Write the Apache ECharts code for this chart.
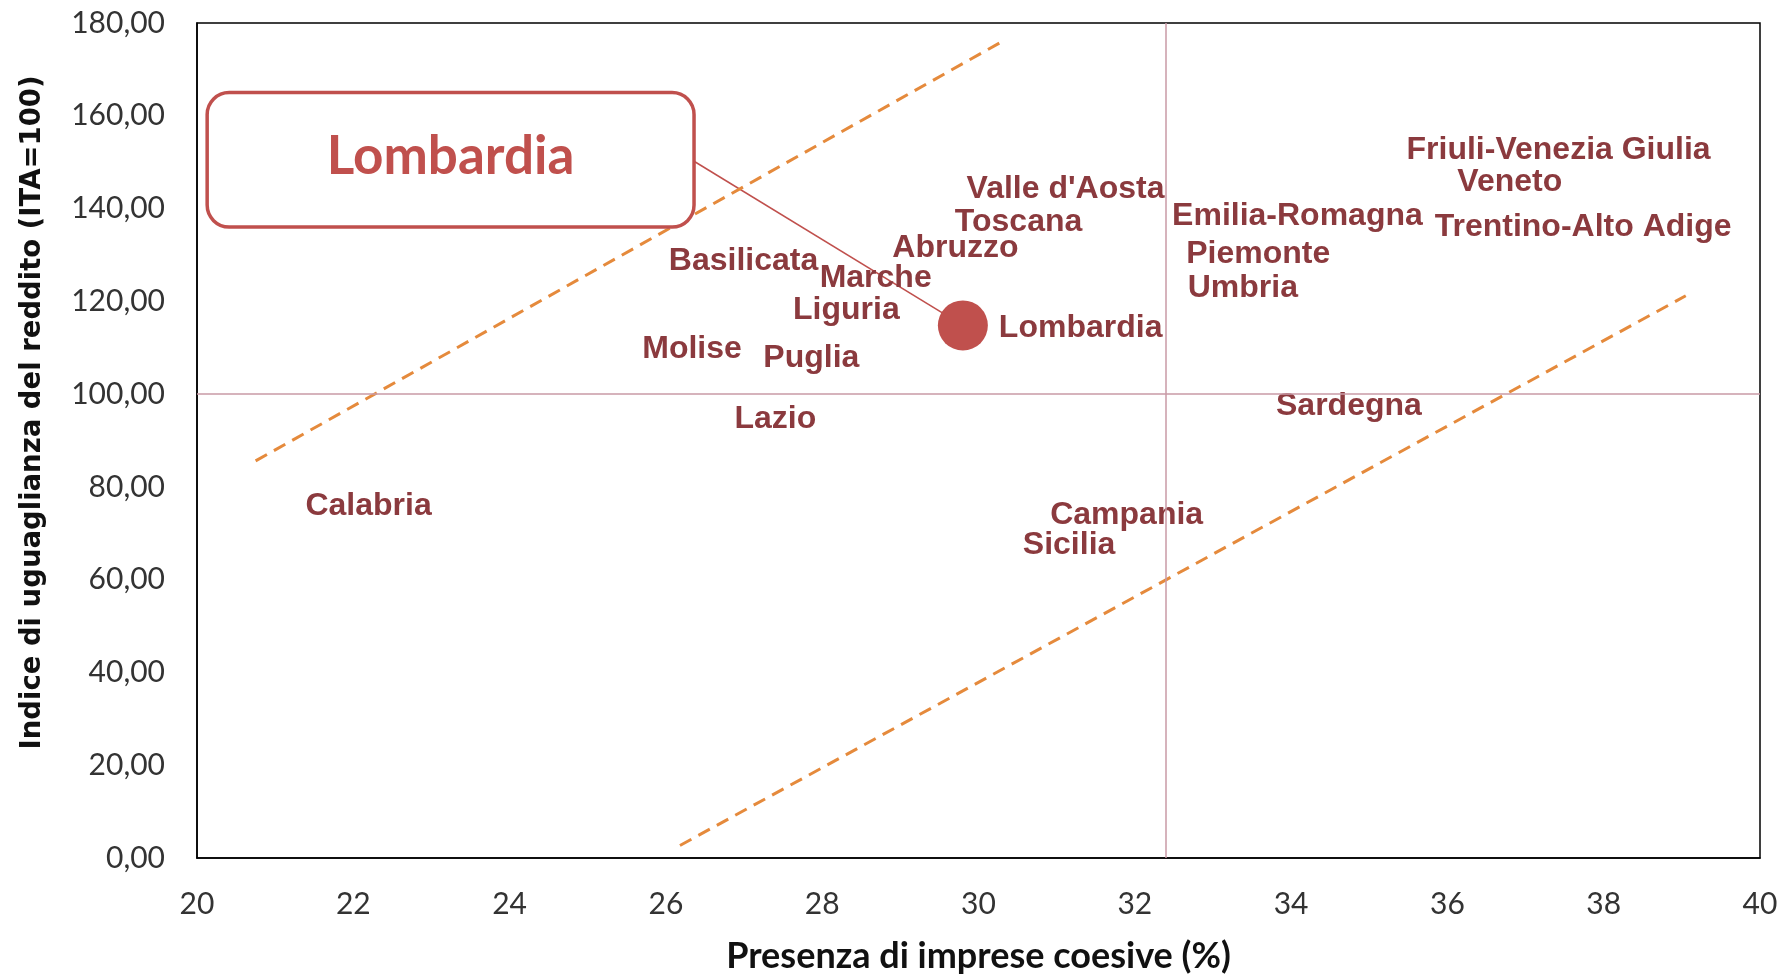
<!DOCTYPE html>
<html>
<head>
<meta charset="utf-8">
<script src="https://cdn.jsdelivr.net/npm/echarts@6/dist/echarts.min.js"></script>
<style>
  html, body { margin: 0; padding: 0; background: #fff; }
  #chart { width: 1789px; height: 976px; }
</style>
</head>
<body>
<div id="chart"></div>
<script>
  // regioni: presenza di imprese coesive (%) e indice di uguaglianza del reddito
  const regions = ['Valle d\'Aosta', 'Toscana', 'Abruzzo', 'Basilicata', 'Marche', 'Liguria', 'Molise', 'Puglia',
    'Lazio', 'Calabria', 'Campania', 'Sicilia', 'Sardegna', 'Emilia-Romagna', 'Piemonte', 'Umbria',
    'Friuli-Venezia Giulia', 'Veneto', 'Trentino-Alto Adige'];
  const impreseCoesive = [29.70, 29.55, 28.75, 25.89, 27.82, 27.48, 25.55, 27.10,
    26.73, 21.24, 30.77, 30.42, 33.66, 32.33, 32.51, 32.53,
    35.33, 35.98, 35.69];
  const uguaglianza = [144.8, 137.7, 132.0, 129.3, 125.6, 118.8, 110.4, 108.4,
    95.2, 76.5, 74.5, 68.1, 98.1, 138.9, 130.8, 123.4,
    153.2, 146.3, 136.7];

  const highlight = {name: 'Lombardia', x: 29.80, y: 114.8};

  // soglie dei quadranti (media)
  const mediaX = 32.4;
  const mediaY = 100;

  // linee tratteggiate di riferimento [x, y]
  const upperBand = [[20.75, 85.6], [30.28, 175.8]];
  const lowerBand = [[26.18, 2.7], [39.05, 121.2]];

  // riquadro del richiamo (coordinate del grafico)
  const calloutBox = {x0: 20.13, x1: 26.36, y0: 165.0, y1: 136.0};
  const calloutAnchor = [26.36, 150.2];

  const labelColor = '#8B3A3E';
  const accent = '#C0504D';

  let chart = echarts.init(document.getElementById('chart'));

  let points = [];
  for (let i = 0; i < regions.length; i++) {
    points.push({name: regions[i], value: [impreseCoesive[i], uguaglianza[i]]});
  }

  const labelStyle = {
    show: true,
    position: 'right',
    distance: 11,
    offset: [0, 3],
    formatter: '{b}',
    color: labelColor,
    fontFamily: '"Liberation Sans", Arial, sans-serif',
    fontWeight: 'bold',
    fontSize: 32
  };

  let option = {
    animation: false,
    backgroundColor: '#fff',
    grid: {
      left: 197, right: 29, top: 23, bottom: 118,
      outerBoundsMode: 'none',
      containLabel: false,
      show: true,
      borderColor: '#000',
      borderWidth: 1.5,
      backgroundColor: 'transparent'
    },
    xAxis: {
      type: 'value',
      min: 20, max: 40, interval: 2,
      name: 'Presenza di imprese coesive (%)',
      nameLocation: 'middle',
      nameGap: 80,
      nameTextStyle: {fontFamily: 'Lato, sans-serif', fontWeight: 'bold', fontSize: 36, color: '#111'},
      axisLine: {show: true, lineStyle: {color: '#000', width: 1.5}},
      axisTick: {show: false},
      splitLine: {show: false},
      axisLabel: {margin: 31, fontFamily: 'Lato, sans-serif', fontSize: 30, color: '#333'}
    },
    yAxis: {
      type: 'value',
      min: 0, max: 180, interval: 20,
      name: 'Indice di uguaglianza del reddito (ITA=100)',
      nameLocation: 'middle',
      nameGap: 150,
      nameTextStyle: {
        fontFamily: '"DejaVu Sans", Verdana, sans-serif', fontWeight: 'bold', fontSize: 27.5, color: '#111',
        padding: [0, 0, 0, 56]
      },
      axisLine: {show: true, lineStyle: {color: '#000', width: 1.5}},
      axisTick: {show: false},
      splitLine: {show: false},
      axisLabel: {
        margin: 32, fontFamily: 'Lato, sans-serif', fontSize: 30, color: '#333',
        formatter: v => v.toFixed(2).replace('.', ',')
      }
    },
    series: [
      {
        name: 'soglie',
        type: 'line',
        data: [],
        markLine: {
          silent: true,
          symbol: 'none',
          label: {show: false},
          lineStyle: {color: '#C99AA6', width: 1.5, type: 'solid'},
          data: [{xAxis: mediaX}, {yAxis: mediaY}]
        }
      },
      {
        name: 'upper',
        type: 'line',
        data: upperBand,
        symbol: 'none',
        lineStyle: {color: '#E58A3C', width: 3, type: [13, 8]}
      },
      {
        name: 'lower',
        type: 'line',
        data: lowerBand,
        symbol: 'none',
        lineStyle: {color: '#E58A3C', width: 3, type: [13, 8]}
      },
      {
        name: 'regioni',
        type: 'scatter',
        symbolSize: 1,
        itemStyle: {color: 'rgba(0,0,0,0)', opacity: 1},
        label: labelStyle,
        data: points
      },
      {
        name: 'Lombardia',
        type: 'scatter',
        symbolSize: 50,
        z: 5,
        itemStyle: {color: accent, opacity: 1},
        label: labelStyle,
        markLine: {
          silent: true,
          symbol: 'none',
          z: 1,
          label: {show: false},
          lineStyle: {color: accent, width: 1.5, type: 'solid'},
          data: [[{coord: calloutAnchor}, {coord: [highlight.x, highlight.y]}]]
        },
        data: [{name: highlight.name, value: [highlight.x, highlight.y]}]
      }
    ]
  };
  chart.setOption(option);

  // riquadro del richiamo posizionato con le scale del grafico
  let p0 = chart.convertToPixel({gridIndex: 0}, [calloutBox.x0, calloutBox.y0]);
  let p1 = chart.convertToPixel({gridIndex: 0}, [calloutBox.x1, calloutBox.y1]);
  chart.setOption({
    graphic: [
      {
        type: 'rect',
        z: 100,
        shape: {x: p0[0], y: p0[1], width: p1[0] - p0[0], height: p1[1] - p0[1], r: 22},
        style: {fill: '#fff', stroke: accent, lineWidth: 3.5}
      },
      {
        type: 'text',
        z: 101,
        x: (p0[0] + p1[0]) / 2,
        y: (p0[1] + p1[1]) / 2 - 3,
        style: {
          text: highlight.name,
          fill: accent,
          font: 'bold 53px Lato, sans-serif',
          textAlign: 'center',
          textVerticalAlign: 'middle'
        }
      }
    ]
  });
</script>
</body>
</html>
